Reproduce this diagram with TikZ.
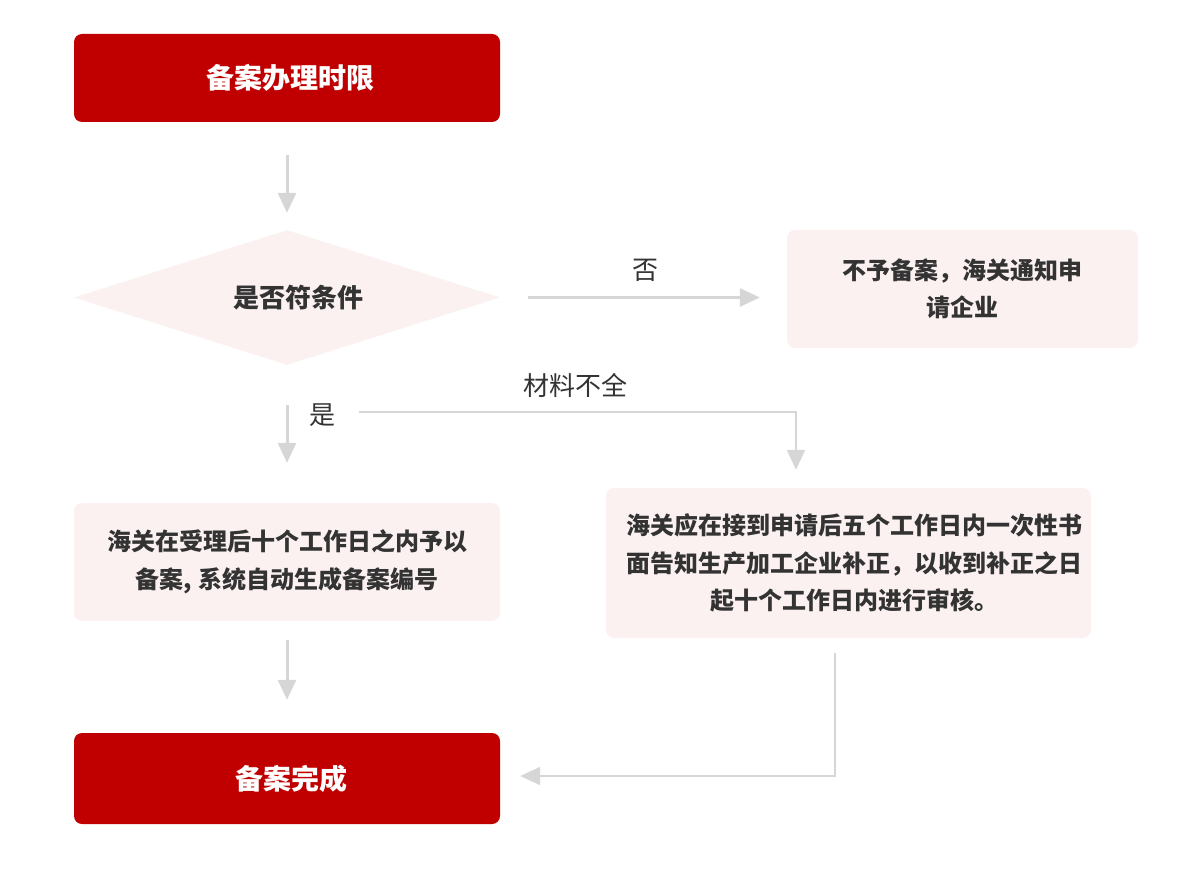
\documentclass[tikz,border=0pt]{standalone}
\usepackage{fontspec}
\usepackage{tikz}
\usetikzlibrary{arrows.meta,shapes.geometric}
\newfontfamily\cjk{Noto Sans CJK SC}
\definecolor{boxred}{HTML}{C00000}
\definecolor{boxpink}{HTML}{FCF1F1}
\definecolor{linegray}{HTML}{D6D6D6}
\definecolor{textgray}{HTML}{333333}

\begin{document}
\begin{tikzpicture}[x=1pt,y=-1pt]
	\tikzstyle{every node}+=[inner sep=0pt]
	\tikzstyle{redbox}=[rectangle,rounded corners=8pt,fill=boxred,text=white,minimum width=426pt,font=\cjk\bfseries\fontsize{28}{34}\selectfont]
	\tikzstyle{pinkbox}=[rectangle,rounded corners=8pt,fill=boxpink,text=textgray,align=center,font=\cjk\bfseries\fontsize{24}{37.5}\selectfont]
	\tikzstyle{ask}=[diamond,aspect=3,fill=boxpink,text=textgray,minimum width=426pt,minimum height=135pt,font=\cjk\bfseries\fontsize{26}{32}\selectfont]
	\tikzstyle{lbl}=[text=textgray,font=\cjk\fontsize{26}{32}\selectfont]
	\tikzstyle{grayarrow}=[linegray,line width=3pt,-{Triangle[width=18pt,length=20pt]}]
	\tikzstyle{grayline}=[linegray,line width=2pt,-{Triangle[width=18pt,length=20pt]}]
	\useasboundingbox (0,0) rectangle (1199,885);
	\draw (287,78) node [redbox,minimum height=88pt] (start) {\hspace*{6pt}备案办理时限};
	\draw (287,297.5) node [ask] (check) {\hspace*{22pt}是否符条件};
	\draw (962.5,289) node [pinkbox,minimum width=351pt,minimum height=118pt] (reject) {不予备案，海关通知申\\请企业};
	\draw (287,562) node [pinkbox,minimum width=426pt,minimum height=118pt] (accept) {海关在受理后十个工作日之内予以\\备案,\hspace{6pt}系统自动生成备案编号};
	\draw (848.5,563) node [pinkbox,minimum width=485pt,minimum height=150pt] (fix) {\hspace*{12pt}海关应在接到申请后五个工作日内一次性书\\\hspace*{12pt}面告知生产加工企业补正，以收到补正之日\\\hspace*{12pt}起十个工作日内进行审核。};
	\draw (287,778.5) node [redbox,minimum height=91pt] (done) {\hspace*{8pt}备案完成};
	\draw (645,270) node [lbl] (no) {否};
	\draw (322,415) node [lbl] (yes) {是};
	\draw (575,385) node [lbl] (lack) {材料不全};
	\coordinate (lackstart) at (359,412);
	\draw [grayarrow,shorten <=33pt,shorten >=17pt] (start) -- (check);
	\draw [grayarrow,shorten <=28pt,shorten >=27pt] (check.east) -- (check.east -| reject.west);
	\draw [grayarrow,shorten <=40pt,shorten >=40pt] (check) -- (accept);
	\draw [grayline,shorten >=18pt] (lackstart) -| ([xshift=-52.5pt]fix.north);
	\draw [grayarrow,shorten <=19pt,shorten >=33pt] (accept) -- (done);
	\draw [grayline,shorten <=15pt,shorten >=20pt] ([xshift=-13.5pt]fix.south) |- ([yshift=2.5pt]done.east);
\end{tikzpicture}
\end{document}
